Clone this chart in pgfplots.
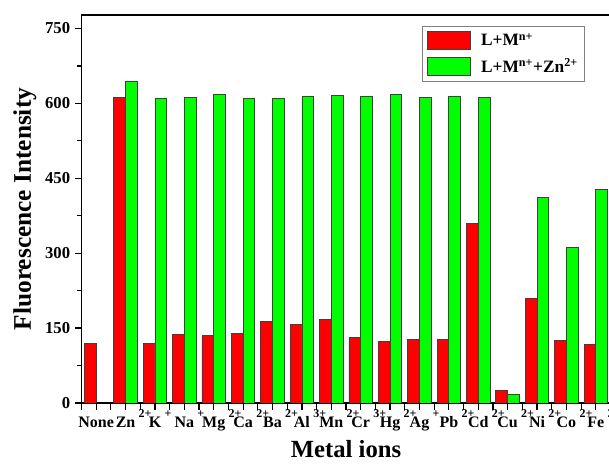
\documentclass[border=0pt]{standalone}
\usepackage{fontspec}
\setmainfont{Liberation Serif}
\usepackage{pgfplots}
\pgfplotsset{compat=1.18}
\definecolor{myred}{RGB}{255,0,0}
\definecolor{mygreen}{RGB}{0,255,0}
\newcommand{\lab}[2]{#1\rlap{\hspace{2.5pt}\raisebox{7.6pt}{\fontsize{9}{9}\selectfont #2}}}
\begin{document}
\begin{tikzpicture}
\begin{axis}[
  name=ax,
  scale only axis, width=396.75pt, height=291pt,
  ybar=0pt, bar width=0.4,
  xmin=-0.5, xmax=17.5, ymin=0, ymax=777,
  ytick={0,150,...,750}, minor y tick num=1,
  xtick={-0.5,0,...,17.5},
  xticklabels={,None,,\lab{Zn}{2+},,\lab{K}{+},,\lab{Na}{+},,\lab{Mg}{2+},,\lab{Ca}{2+},,\lab{Ba}{2+},,\lab{Al}{3+},,\lab{Mn}{2+},,\lab{Cr}{3+},,\lab{Hg}{2+},,\lab{Ag}{+},,\lab{Pb}{2+},,\lab{Cd}{2+},,\lab{Cu}{2+},,\lab{Ni}{2+},,\lab{Co}{2+},,\lab{Fe}{3+},},
  tick align=outside, tick pos=left,
  major tick length=5pt, minor tick length=3pt,
  axis line style={line width=1.1pt},
  every tick/.style={black, line width=0.9pt},
  /pgf/number format/assume math mode=true,
  yticklabel style={font=\fontsize{12.5}{15}\selectfont\bfseries},
  xticklabel style={font=\fontsize{12}{14}\selectfont\bfseries, inner sep=0pt, text height=14pt, text depth=0pt, anchor=north, yshift=1pt},
  ylabel={Fluorescence Intensity},
  ylabel style={font=\fontsize{19}{22}\selectfont\bfseries, at={(axis description cs:-0.107,0.5)}, anchor=center, rotate=0},
  xlabel={Metal ions},
  xlabel style={font=\fontsize{18.5}{22}\selectfont\bfseries, at={(axis description cs:0.5,-0.12)}, anchor=center},
  legend image code/.code={\draw[#1] (0pt,-6.75pt) rectangle (32pt,6.75pt); \path (38pt,0pt);},
  legend style={at={(0.952,0.9716)}, anchor=north east, draw=black!50, line width=0.8pt,
    font=\fontsize{13}{16}\selectfont\bfseries, inner xsep=3pt, inner ysep=3pt, row sep=4pt,
    /tikz/every even column/.append style={column sep=0pt}},
  legend cell align=left,
]
\addplot[fill=myred, draw=black!75, line width=0.6pt] coordinates {
(0,120) (1,612) (2,120) (3,138) (4,135) (5,140) (6,163) (7,158) (8,167) (9,131) (10,123) (11,128) (12,127) (13,360) (14,25) (15,210) (16,125) (17,118)};
\addplot[fill=mygreen, draw=black!75, line width=0.6pt] coordinates {
(1,645) (2,610) (3,612) (4,617) (5,610) (6,609) (7,614) (8,615) (9,614) (10,618) (11,611) (12,613) (13,611) (14,17) (15,412) (16,311) (17,428)};
\legend{L+M\textsuperscript{n+}, L+M\textsuperscript{n+}+Zn\textsuperscript{2+}}
\end{axis}
\pgfresetboundingbox
\path[use as bounding box] ([shift={(-61.125pt,-47.25pt)}]ax.south west) rectangle ([shift={(395.625pt,302.25pt)}]ax.south west);
\end{tikzpicture}
\end{document}
